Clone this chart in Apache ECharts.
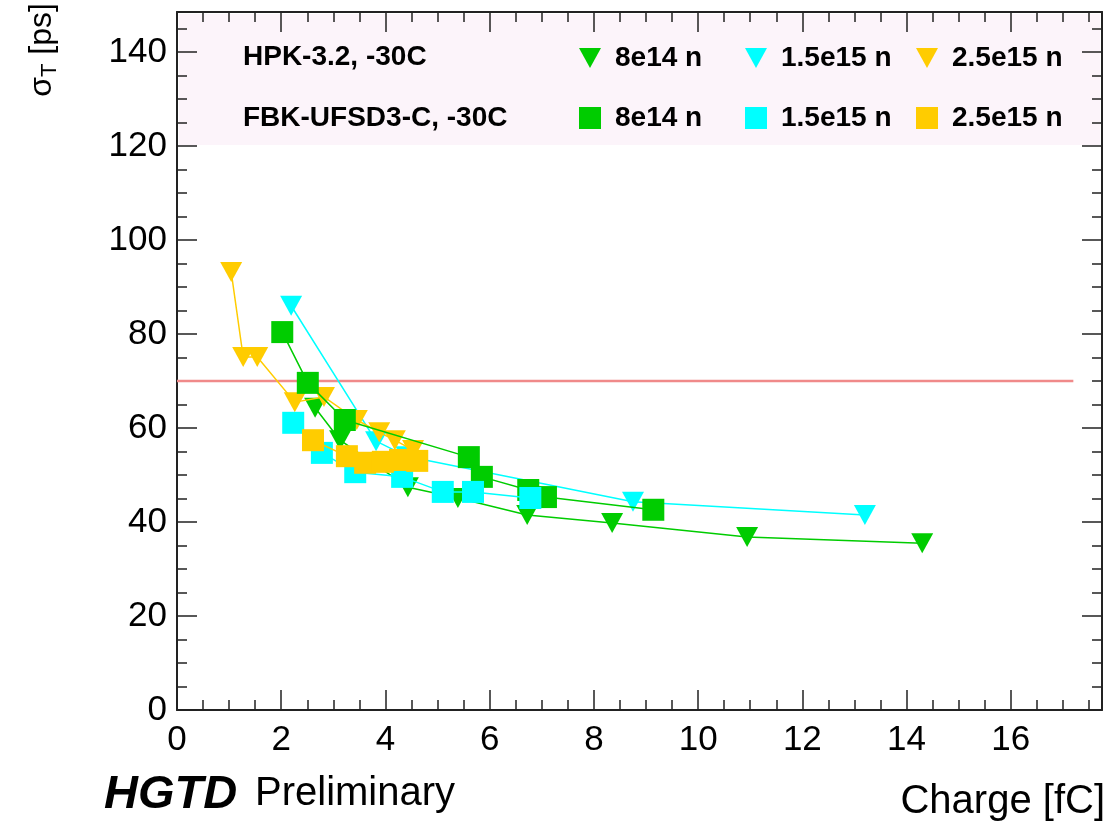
<!DOCTYPE html>
<html>
<head>
<meta charset="utf-8">
<script src="https://cdn.jsdelivr.net/npm/echarts@6/dist/echarts.min.js"></script>
<style>
html,body{margin:0;padding:0;background:#fff;}
#chart{width:1110px;height:828px;}
</style>
</head>
<body>
<div id="chart"></div>
<script>
// ---- data (charge [fC], sigma_T [ps]) ----
const seriesNames = ['HPK|8e14 n','HPK|1.5e15 n','HPK|2.5e15 n','FBK|8e14 n','FBK|1.5e15 n','FBK|2.5e15 n'];
const hpk8e14  = [[2.65,64.3],[3.13,57.4],[4.43,47.4],[5.39,45.1],[6.72,41.5],[8.35,39.8],[10.94,36.8],[14.3,35.5]];
const hpk15e15 = [[2.19,86.0],[3.82,57.2],[4.4,54.0],[8.75,44.3],[13.2,41.5]];
const hpk25e15 = [[1.04,93.2],[1.27,75.1],[1.54,75.1],[2.26,65.5],[2.82,66.6],[3.45,61.7],[3.88,59.1],[4.18,57.4],[4.53,55.3]];
const fbk8e14  = [[2.02,80.4],[2.51,69.6],[3.22,61.7],[5.60,53.8],[5.85,49.6],[6.74,46.8],[7.08,45.3],[9.14,42.6]];
const fbk15e15 = [[2.23,61.1],[2.78,54.7],[3.42,50.6],[4.32,49.6],[5.10,46.4],[5.68,46.4],[6.78,45.1]];
const fbk25e15 = [[2.61,57.4],[3.26,54.0],[3.61,52.6],[3.95,52.8],[4.28,53.2],[4.61,53.0]];
const targetLine = [[0,70],[17.2,70]];
const rowLabels = ['HPK-3.2, -30C','FBK-UFSD3-C, -30C'];
const xRange = [0,17.75];
const yRange = [0,148.5];

// ---- style ----
const FONT = 'Liberation Sans, Arial, Helvetica, sans-serif';
const colors = ['#00cc00','#00ffff','#ffcc00','#00cc00','#00ffff','#ffcc00'];
const TRI = 'path://M0,0L22,0L11,20Z';
const datasets = [hpk8e14,hpk15e15,hpk25e15,fbk8e14,fbk15e15,fbk25e15];

const series = datasets.map((d,i)=>({
  name: seriesNames[i],
  type: 'line',
  data: d,
  symbol: i<3 ? TRI : 'rect',
  symbolSize: i<3 ? [22,20] : [22,22],
  itemStyle: {color: colors[i], opacity: 1},
  lineStyle: {color: colors[i], width: 1.5},
  z: 3 + i,
  animation: false
}));
series.unshift({
  type: 'line', data: targetLine, symbol: 'none', silent: true,
  lineStyle: {color: '#f08a8a', width: 2.5}, z: 2, animation: false
});

// legend placement per item
const legendPos = [[579,44],[745,44],[916,44],[579,104],[745,104],[916,104]];
const legends = seriesNames.map((n,i)=>({
  data: [{name: n, icon: i<3 ? TRI : 'rect'}],
  left: legendPos[i][0], top: legendPos[i][1],
  padding: 0,
  itemWidth: 22, itemHeight: i<3 ? 20 : 22,
  selectedMode: false,
  formatter: name => name.split('|')[1],
  textStyle: {fontFamily: FONT, fontWeight: 'bold', fontSize: 28, color: '#000', padding: [0,0,0,9]}
}));

const axisCommon = {
  type: 'value',
  axisLine: {show: true, onZero: false, lineStyle: {color: '#222', width: 2}},
  axisTick: {show: true, inside: true, length: 20, lineStyle: {color: '#222', width: 1.5}},
  minorTick: {show: true, splitNumber: 4, length: 10, lineStyle: {color: '#222', width: 1.5}},
  splitLine: {show: false},
  minorSplitLine: {show: false}
};

const option = {
  backgroundColor: '#ffffff',
  animation: false,
  grid: {left: 177, top: 12, right: 8, bottom: 118, containLabel: false},
  legend: legends,
  xAxis: [
    Object.assign({}, axisCommon, {
      min: xRange[0], max: xRange[1], interval: 2, position: 'bottom',
      axisLabel: {show: true, fontFamily: FONT, fontSize: 35, color: '#000', margin: 13, showMaxLabel: false}
    }),
    Object.assign({}, axisCommon, {
      min: xRange[0], max: xRange[1], interval: 2, position: 'top',
      axisLabel: {show: false}
    })
  ],
  yAxis: [
    Object.assign({}, axisCommon, {
      min: yRange[0], max: yRange[1], interval: 20, position: 'left',
      axisLabel: {show: true, fontFamily: FONT, fontSize: 35, color: '#000', margin: 10, showMaxLabel: false}
    }),
    Object.assign({}, axisCommon, {
      min: yRange[0], max: yRange[1], interval: 20, position: 'right',
      axisLabel: {show: false}
    })
  ],
  series: series,
  graphic: [
    {type: 'rect', z: -10, shape: {x: 179, y: 14, width: 921, height: 131}, style: {fill: '#fcf4fa'}},
    {type: 'text', z: 10, x: 243, y: 57, style: {text: rowLabels[0], font: 'bold 28px ' + FONT, fill: '#000', textVerticalAlign: 'middle'}},
    {type: 'text', z: 10, x: 243, y: 118, style: {text: rowLabels[1], font: 'bold 28px ' + FONT, fill: '#000', textVerticalAlign: 'middle'}},
    {type: 'text', z: 10, x: 104, y: 795, style: {text: 'HGTD', font: 'italic bold 47px ' + FONT, fill: '#000', textVerticalAlign: 'middle'}},
    {type: 'text', z: 10, x: 255, y: 794, style: {text: 'Preliminary', font: '40px ' + FONT, fill: '#000', textVerticalAlign: 'middle'}},
    {type: 'text', z: 10, x: 1105, y: 802, style: {text: 'Charge [fC]', font: '40px ' + FONT, fill: '#000', textAlign: 'right', textVerticalAlign: 'middle'}},
    {type: 'text', z: 10, x: 42, y: 50, rotation: Math.PI/2,
      style: {text: '{a|σ}{b|T}{a| [ps]}', textAlign: 'center', textVerticalAlign: 'middle', fill: '#000',
        rich: {a: {fontFamily: FONT, fontSize: 32, fill: '#000'}, b: {fontFamily: FONT, fontSize: 22, fill: '#000', padding: [16,0,0,0]}}}}
  ]
};

const chart = echarts.init(document.getElementById('chart'), null, {renderer: 'canvas'});
chart.setOption(option);
</script>
</body>
</html>
